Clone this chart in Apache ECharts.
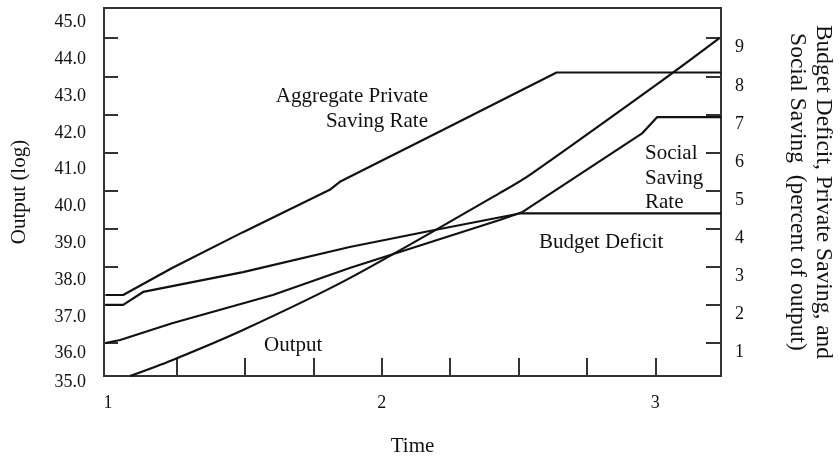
<!DOCTYPE html>
<html><head><meta charset="utf-8">
<script src="https://cdn.jsdelivr.net/npm/echarts@6/dist/echarts.min.js"></script>
<style>html,body{margin:0;padding:0;background:#fff}#c{width:840px;height:463px}</style>
</head><body><div id="c"></div>
<script>
// axis ticks / labels
const timeTicks = [1.25, 1.5, 1.75, 2, 2.25, 2.5, 2.75, 3];
const timeLabels = [1, 2, 3];
const outputLabels = [35, 36, 37, 38, 39, 40, 41, 42, 43, 44, 45];
const percentTicks = [1, 2, 3, 4, 5, 6, 7, 8, 9];

// series (time, value)
const aggT = [0.99, 1.055, 1.234, 1.493, 1.81, 1.847, 2.223, 2.639, 3.24];
const aggV = [2.26, 2.26, 2.97, 3.91, 5.02, 5.23, 6.59, 8.1, 8.1];
const defT = [0.99, 1.055, 1.128, 1.493, 1.883, 2.175, 2.504, 3.24];
const defV = [2.0, 2.0, 2.34, 2.86, 3.52, 3.94, 4.4, 4.4];
const socT = [0.99, 1.044, 1.234, 1.602, 1.883, 2.431, 2.515, 2.953, 3.007, 3.24];
const socV = [1.0, 1.08, 1.52, 2.26, 2.97, 4.23, 4.44, 6.51, 6.93, 6.93];
const outT = [1.08, 1.234, 1.493, 1.883, 2.431, 2.54, 3.062, 3.234];
const outV = [35.0, 35.43, 36.25, 37.66, 39.97, 40.46, 43.23, 44.18];

const FONT = 'Liberation Serif';
const INK = '#111';
const AX = '#333';
const zip = (a, b) => a.map((v, i) => [v, b[i]]);

const chart = echarts.init(document.getElementById('c'));
const lineSeries = (name, t, v, yi, smooth) => ({
  name, type: 'line', xAxisIndex: 0, yAxisIndex: yi,
  data: zip(t, v), showSymbol: false, smooth: smooth || false,
  lineStyle: { color: INK, width: 2.2 }, silent: true, z: 3
});

chart.setOption({
  animation: false,
  backgroundColor: '#fff',
  grid: { left: 104, right: 119, top: 8, bottom: 87, show: true, containLabel: false,
          outerBoundsMode: 'none',
          borderColor: AX, borderWidth: 2, backgroundColor: 'transparent' },
  xAxis: [{
    type: 'value', min: 0.985, max: 3.24,
    axisLine: { show: true, lineStyle: { color: AX, width: 2 } },
    axisTick: { show: true, inside: true, length: 18, customValues: timeTicks,
                lineStyle: { color: AX, width: 2 } },
    axisLabel: { customValues: timeLabels, fontFamily: FONT, fontSize: 18, color: INK, margin: 18 },
    splitLine: { show: false },
    name: 'Time', nameLocation: 'middle', nameGap: 60,
    nameTextStyle: { fontFamily: FONT, fontSize: 21, color: INK }
  }],
  yAxis: [{
    type: 'value', position: 'left', min: 35, max: 45,
    axisLine: { show: true, lineStyle: { color: AX, width: 2 } },
    axisTick: { show: false },
    splitLine: { show: false },
    axisLabel: {
      customValues: outputLabels, margin: 18,
      formatter: v => (v === 35 ? '{b|' : '{a|') + v.toFixed(1) + '}',
      rich: {
        a: { fontFamily: FONT, fontSize: 18, color: INK, padding: [29, 0, 0, 0] },
        b: { fontFamily: FONT, fontSize: 18, color: INK, padding: [12, 0, 0, 0] }
      }
    },
    name: 'Output (log)', nameLocation: 'middle', nameRotate: 90, nameGap: 74,
    nameTextStyle: { fontFamily: FONT, fontSize: 21, color: INK }
  }, {
    type: 'value', position: 'right', min: 0.134, max: 9.793,
    axisLine: { show: true, lineStyle: { color: AX, width: 2 } },
    axisTick: { show: true, inside: true, length: 15, customValues: percentTicks,
                lineStyle: { color: AX, width: 2 } },
    splitLine: { show: false },
    axisLabel: {
      customValues: percentTicks, margin: 14,
      formatter: v => '{a|' + v + '}',
      rich: { a: { fontFamily: FONT, fontSize: 18, color: INK, padding: [19, 0, 0, 0] } }
    },
    name: 'Budget Deficit, Private Saving, and\nSocial Saving  (percent of output)',
    nameLocation: 'middle', nameRotate: -90, nameGap: 63,
    nameTextStyle: { fontFamily: FONT, fontSize: 23.5, color: INK, lineHeight: 26 }
  }, {
    type: 'value', position: 'left', min: 0.134, max: 9.793,
    axisLine: { show: false },
    axisTick: { show: true, inside: true, length: 14, customValues: percentTicks,
                lineStyle: { color: AX, width: 2 } },
    axisLabel: { show: false },
    splitLine: { show: false }
  }],
  series: [
    lineSeries('Aggregate Private Saving Rate', aggT, aggV, 1),
    lineSeries('Budget Deficit', defT, defV, 1),
    lineSeries('Social Saving Rate', socT, socV, 1),
    lineSeries('Output', outT, outV, 0, 0.3)
  ],
  graphic: [
    { type: 'text', x: 428, y: 109, style: { text: 'Aggregate Private\nSaving Rate', align: 'right',
      verticalAlign: 'middle', lineHeight: 25, font: '21px "Liberation Serif"', fill: INK } },
    { type: 'text', x: 645, y: 178, style: { text: 'Social\nSaving\nRate', align: 'left',
      verticalAlign: 'middle', lineHeight: 24.5, font: '21px "Liberation Serif"', fill: INK } },
    { type: 'text', x: 539, y: 242, style: { text: 'Budget Deficit', align: 'left',
      verticalAlign: 'middle', font: '21px "Liberation Serif"', fill: INK } },
    { type: 'text', x: 264, y: 345, style: { text: 'Output', align: 'left',
      verticalAlign: 'middle', font: '21px "Liberation Serif"', fill: INK } }
  ]
});
</script>
</body></html>
